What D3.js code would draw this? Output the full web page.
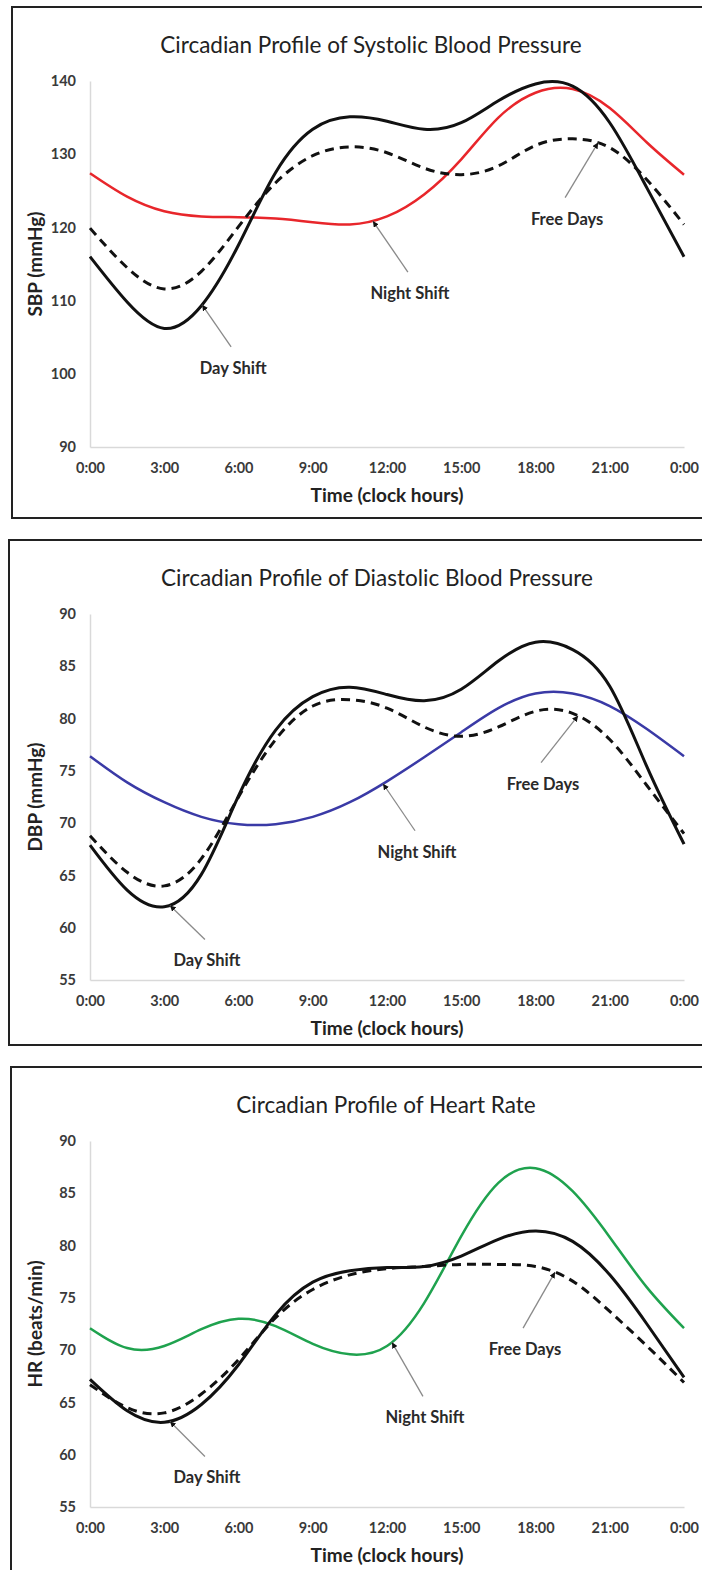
<!DOCTYPE html>
<html>
<head>
<meta charset="utf-8">
<script src="https://cdn.jsdelivr.net/npm/d3@7.9.0/dist/d3.min.js"></script>
<style>
  body { margin: 0; background: #fff; }
  svg { display: block; font-family: Lato, "Open Sans", sans-serif; }
</style>
</head>
<body>
<svg id="chart" width="702" height="1570"></svg>
<script>
const hours = [0, 1.5, 3, 4.5, 6, 7.5, 9, 10.5, 12, 13.5, 15, 16.5, 18, 19.5, 21, 22.5, 24];
const xTicks = [0, 3, 6, 9, 12, 15, 18, 21, 24];
const xTickLabels = ['0:00', '3:00', '6:00', '9:00', '12:00', '15:00', '18:00', '21:00', '0:00'];

// systolic blood pressure (mmHg)
const sbpDay   = [116.0, 109.8, 106.2, 109.3, 117.6, 127.5, 133.4, 135.1, 134.5, 133.4, 134.3, 137.3, 139.6, 139.3, 134.3, 125.4, 116.0];
const sbpFree  = [119.9, 114.5, 111.6, 114.0, 120.1, 126.1, 129.8, 131.0, 130.2, 128.1, 127.2, 128.4, 131.2, 132.1, 130.9, 126.5, 120.4];
const sbpNight = [127.4, 124.2, 122.2, 121.5, 121.4, 121.2, 120.7, 120.4, 121.5, 124.5, 129.3, 135.0, 138.4, 138.9, 136.3, 131.6, 127.2];
const sbpTicks = [90, 100, 110, 120, 130, 140];

// diastolic blood pressure (mmHg)
const dbpDay   = [67.9, 63.6, 62.0, 65.1, 72.6, 78.9, 82.1, 83.0, 82.3, 81.7, 82.8, 85.5, 87.3, 86.6, 83.1, 75.4, 68.0];
const dbpFree  = [68.8, 65.3, 64.0, 66.6, 72.5, 78.0, 81.2, 81.8, 81.0, 79.2, 78.3, 79.2, 80.7, 80.5, 78.0, 73.6, 69.0];
const dbpNight = [76.4, 73.9, 72.0, 70.6, 69.9, 69.9, 70.6, 72.0, 74.0, 76.3, 78.7, 81.0, 82.4, 82.4, 81.2, 79.0, 76.4];
const dbpTicks = [55, 60, 65, 70, 75, 80, 85, 90];

// heart rate (beats/min)
const hrDay   = [67.2, 64.2, 63.1, 64.8, 68.6, 73.4, 76.5, 77.6, 77.9, 78.0, 79.0, 80.6, 81.4, 80.4, 77.2, 72.5, 67.4];
const hrFree  = [66.7, 64.5, 64.0, 65.8, 69.1, 73.1, 75.8, 77.2, 77.8, 78.0, 78.2, 78.2, 78.0, 76.6, 73.7, 70.4, 66.9];
const hrNight = [72.1, 70.2, 70.4, 72.0, 73.0, 72.3, 70.6, 69.6, 70.4, 74.5, 80.9, 86.0, 87.4, 85.2, 80.8, 76.0, 72.1];
const hrTicks = [55, 60, 65, 70, 75, 80, 85, 90];

// which curve each callout points at, and the hour where it touches
const noteTexts  = ['Day Shift', 'Night Shift', 'Free Days'];
const noteSeries = ['day', 'night', 'free'];
const sbpNoteHours = [4.53, 11.43, 20.53];
const dbpNoteHours = [3.23, 11.84, 19.72];
const hrNoteHours  = [3.23, 12.2, 18.79];

// layout of each boxed panel (pixels)
const panels = [
  { title: 'Circadian Profile of Systolic Blood Pressure', yLabel: 'SBP (mmHg)',
    domain: [90, 140], ticks: sbpTicks, day: sbpDay, free: sbpFree, night: sbpNight,
    nightColor: '#e8262b', noteHours: sbpNoteHours,
    top: 7, left: 12, height: 511, titleX: 371,
    offsets: [[31, 63], [37, 72], [-31, 76]] },
  { title: 'Circadian Profile of Diastolic Blood Pressure', yLabel: 'DBP (mmHg)',
    domain: [55, 90], ticks: dbpTicks, day: dbpDay, free: dbpFree, night: dbpNight,
    nightColor: '#3a3aa6', noteHours: dbpNoteHours,
    top: 540, left: 9, height: 505, titleX: 377,
    offsets: [[37, 55], [34, 68], [-35, 68]] },
  { title: 'Circadian Profile of Heart Rate', yLabel: 'HR (beats/min)',
    domain: [55, 90], ticks: hrTicks, day: hrDay, free: hrFree, night: hrNight,
    nightColor: '#1fa24e', noteHours: hrNoteHours,
    top: 1067, left: 11, height: 520, titleX: 386,
    offsets: [[37, 56], [33, 75], [-30, 77]] }
];

const plotTop = 74, plotH = 366;
const x = d3.scaleLinear().domain([0, 24]).range([90, 684]);

const svg = d3.select('#chart');
svg.append('rect').attr('width', 702).attr('height', 1570).attr('fill', '#fff');

svg.append('defs').append('marker')
  .attr('id', 'tip')
  .attr('viewBox', '0 0 6 6')
  .attr('refX', 6).attr('refY', 3)
  .attr('markerWidth', 6).attr('markerHeight', 6)
  .attr('markerUnits', 'userSpaceOnUse')
  .attr('orient', 'auto')
  .append('path').attr('d', 'M0,0L6,3L0,6z').attr('fill', '#111');

// find the point of a drawn path at a given screen x
function pointAtX(node, px) {
  let lo = 0, hi = node.getTotalLength();
  for (let k = 0; k < 30; k++) {
    const mid = (lo + hi) / 2;
    if (node.getPointAtLength(mid).x < px) lo = mid; else hi = mid;
  }
  return node.getPointAtLength(lo);
}

panels.forEach((p) => {
  const g = svg.append('g').attr('transform', `translate(0,${p.top})`);

  g.append('rect')
    .attr('x', p.left).attr('y', 0)
    .attr('width', 720 - p.left).attr('height', p.height)
    .attr('fill', 'none').attr('stroke', '#222').attr('stroke-width', 2);

  const y = d3.scaleLinear().domain(p.domain).range([plotTop + plotH, plotTop]);

  g.append('text')
    .attr('x', p.titleX).attr('y', 37)
    .attr('text-anchor', 'middle').attr('dominant-baseline', 'central')
    .attr('font-size', 22.5).attr('fill', '#222')
    .text(p.title);

  // axes
  const yAxis = g.append('g').attr('transform', `translate(${x(0)},0)`)
    .call(d3.axisLeft(y).tickValues(p.ticks).tickSize(0).tickSizeOuter(0).tickPadding(14));
  const xAxis = g.append('g').attr('transform', `translate(0,${plotTop + plotH})`)
    .call(d3.axisBottom(x).tickValues(xTicks).tickFormat((d, i) => xTickLabels[i])
      .tickSize(0).tickSizeOuter(0).tickPadding(16));
  [yAxis, xAxis].forEach((a) => {
    a.select('.domain').attr('stroke', '#d9d9d9').attr('stroke-width', 1.5);
    a.selectAll('text').attr('font-size', 14.5).attr('font-weight', 700)
      .attr('fill', '#3a3a3a').attr('font-family', 'Lato, sans-serif');
  });

  g.append('text')
    .attr('x', (x(0) + x(24)) / 2).attr('y', plotTop + plotH + 47)
    .attr('text-anchor', 'middle').attr('dominant-baseline', 'central')
    .attr('font-size', 19).attr('font-weight', 700).attr('fill', '#222')
    .text('Time (clock hours)');

  g.append('text')
    .attr('transform', `translate(34,${plotTop + plotH / 2}) rotate(-90)`)
    .attr('text-anchor', 'middle').attr('dominant-baseline', 'central')
    .attr('font-size', 19).attr('font-weight', 700).attr('fill', '#222')
    .text(p.yLabel);

  // profiles
  const line = d3.line()
    .x((d, i) => x(hours[i]))
    .y((d) => y(d))
    .curve(d3.curveNatural);

  const paths = {};
  paths.night = g.append('path').datum(p.night).attr('d', line)
    .attr('fill', 'none').attr('stroke', p.nightColor).attr('stroke-width', 2.5);
  paths.free = g.append('path').datum(p.free).attr('d', line)
    .attr('fill', 'none').attr('stroke', '#111').attr('stroke-width', 3)
    .attr('stroke-dasharray', '9,6');
  paths.day = g.append('path').datum(p.day).attr('d', line)
    .attr('fill', 'none').attr('stroke', '#111').attr('stroke-width', 3);

  // callouts
  noteTexts.forEach((txt, i) => {
    const tip = pointAtX(paths[noteSeries[i]].node(), x(p.noteHours[i]));
    const lx = tip.x + p.offsets[i][0];
    const ly = tip.y + p.offsets[i][1];
    g.append('line')
      .attr('x1', lx - 2).attr('y1', ly - 21)
      .attr('x2', tip.x).attr('y2', tip.y)
      .attr('stroke', '#8a8a8a').attr('stroke-width', 1.3)
      .attr('marker-end', 'url(#tip)');
    g.append('text')
      .attr('x', lx).attr('y', ly)
      .attr('text-anchor', 'middle').attr('dominant-baseline', 'central')
      .attr('font-size', 16.5).attr('font-weight', 700).attr('fill', '#2a2a2a')
      .text(txt);
  });
});
</script>
</body>
</html>
